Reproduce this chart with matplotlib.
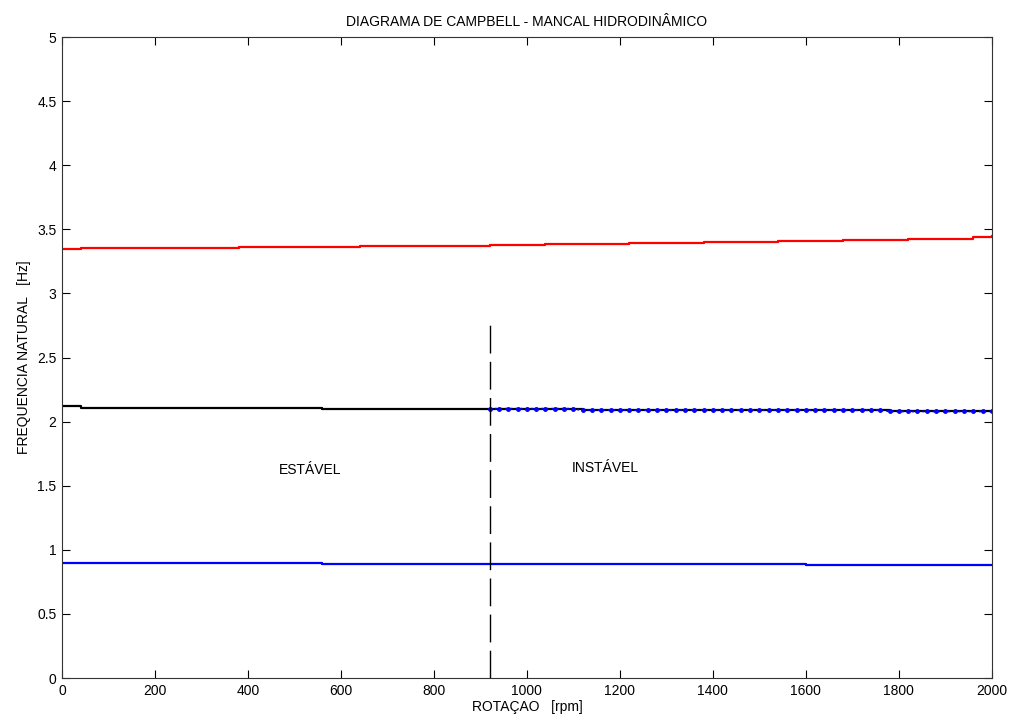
import matplotlib
matplotlib.use("Agg")
import matplotlib.pyplot as plt

plt.rcParams["font.family"] = ["Liberation Sans", "DejaVu Sans"]

# modo 3 (vermelho)
rpm_red = [0, 40, 380, 640, 920, 1040, 1220, 1380, 1540, 1680, 1820, 1960, 2000]
f_red = [3.348, 3.356, 3.363, 3.371, 3.379, 3.387, 3.395, 3.403, 3.411, 3.419, 3.427, 3.437, 3.445]

# modo 2 (preto)
rpm_black = [0, 40, 560, 920, 1120, 1780, 2000]
f_black = [2.118, 2.108, 2.100, 2.100, 2.090, 2.080, 2.080]

# modo 2 instavel (azul pontilhado), passo de 20 rpm
rpm_inst = list(range(920, 2001, 20))
f_inst = [2.10] * 10 + [2.09] * 33 + [2.08] * 12

# modo 1 (azul)
rpm_blue = [0, 560, 1600, 2000]
f_blue = [0.895, 0.887, 0.880, 0.880]

rpm_lim = 920
f_lim = 2.78

fig = plt.figure(figsize=(10.09, 7.2), dpi=100)
ax = fig.add_axes([0.0614, 0.0583, 0.9216, 0.8903])

ax.plot(rpm_red, f_red, color="#ff0000", lw=1.6, drawstyle="steps-post")
ax.plot(rpm_black, f_black, color="k", lw=1.6, drawstyle="steps-post")
ax.plot(rpm_inst, f_inst, color="#0000ff", ls=":", lw=1.4, marker=".", ms=5)
ax.plot(rpm_blue, f_blue, color="#0000ff", lw=1.6, drawstyle="steps-post")
ax.plot([rpm_lim, rpm_lim], [0, f_lim], color="k", lw=1.0, dashes=(20, 6))

ax.text(533, 1.62, "ESTÁVEL", ha="center", va="center", fontsize=10)
ax.text(1168, 1.64, "INSTÁVEL", ha="center", va="center", fontsize=10)

ax.set_xlim(0, 2000)
ax.set_ylim(0, 5)
ax.set_xticks(range(0, 2001, 200))
ax.set_yticks([0, 0.5, 1, 1.5, 2, 2.5, 3, 3.5, 4, 4.5, 5])
ax.set_yticklabels(["0", "0.5", "1", "1.5", "2", "2.5", "3", "3.5", "4", "4.5", "5"])
ax.tick_params(direction="in", length=6, top=True, right=True, labelsize=10, pad=4)
for s in ax.spines.values():
    s.set_color("#333333")

ax.set_title("DIAGRAMA DE CAMPBELL - MANCAL HIDRODINÂMICO", fontsize=10, pad=8)
ax.set_xlabel("ROTAÇAO   [rpm]", fontsize=10, labelpad=2)
ax.set_ylabel("FREQUENCIA NATURAL   [Hz]", fontsize=10, labelpad=4)

fig.savefig("out.png", dpi=100)
